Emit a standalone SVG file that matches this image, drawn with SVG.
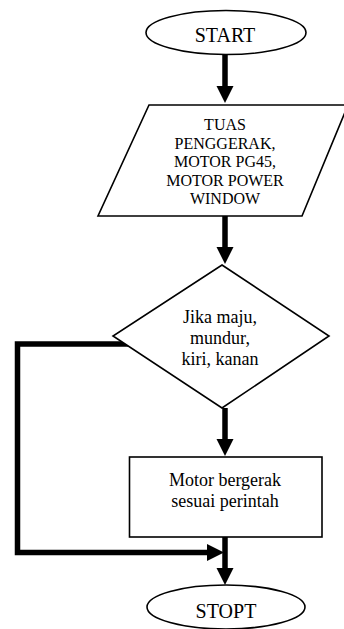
<svg xmlns="http://www.w3.org/2000/svg" width="344" height="629" viewBox="0 0 344 629">
<style>
.shape{fill:#fff;stroke:#000;stroke-width:1.6}
.conn{fill:none;stroke:#000;stroke-width:5.5}
text{font-family:"Liberation Serif","Times New Roman",serif;fill:#000;text-anchor:middle}
.t16{font-size:16px}
.t18{font-size:18px}
.t20{font-size:20px}
</style>
<defs>
<marker id="arr" markerUnits="userSpaceOnUse" markerWidth="18" markerHeight="18" refX="6" refY="8.5" orient="auto">
<path d="M0,0 L17,8.5 L0,17 z" fill="#000"/>
</marker>
</defs>
<rect width="344" height="629" fill="#fff"/>
<g id="connectors">
<line class="conn" x1="225" y1="54" x2="225" y2="92" marker-end="url(#arr)"/>
<line class="conn" x1="225" y1="216" x2="225" y2="253" marker-end="url(#arr)"/>
<line class="conn" x1="225" y1="408" x2="225" y2="445" marker-end="url(#arr)"/>
<line class="conn" x1="225" y1="537" x2="225" y2="574" marker-end="url(#arr)"/>
<polyline class="conn" points="129,344 17.5,344 17.5,552.5 213,552.5" marker-end="url(#arr)"/>
</g>
<g id="start">
<ellipse class="shape" cx="226" cy="32.5" rx="80" ry="22"/>
<text class="t20" x="225" y="42">START</text>
</g>
<g id="input">
<polygon class="shape" points="149,105 348,105 302,216 98,216"/>
<text class="t16" x="225" y="130">TUAS</text>
<text class="t16" x="225" y="148.5">PENGGERAK,</text>
<text class="t16" x="225" y="167">MOTOR PG45,</text>
<text class="t16" x="225" y="185.5">MOTOR POWER</text>
<text class="t16" x="225" y="204">WINDOW</text>
</g>
<g id="decision">
<polygon class="shape" points="222,265 329,336 222,408 113,336"/>
<text class="t18" x="220" y="323">Jika maju,</text>
<text class="t18" x="220" y="344">mundur,</text>
<text class="t18" x="220" y="365">kiri, kanan</text>
</g>
<g id="process">
<rect class="shape" x="129.5" y="457" width="192.5" height="80"/>
<text class="t18" x="225" y="486">Motor bergerak</text>
<text class="t18" x="225" y="507">sesuai perintah</text>
</g>
<g id="stop">
<ellipse class="shape" cx="226" cy="607" rx="79" ry="22"/>
<text class="t20" x="226" y="618">STOPT</text>
</g>
</svg>
